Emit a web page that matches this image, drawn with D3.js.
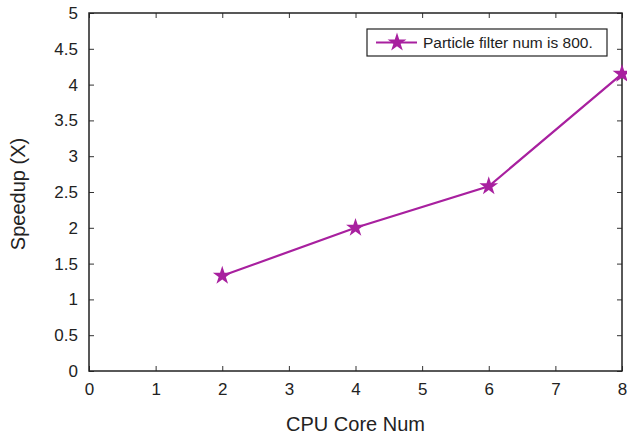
<!DOCTYPE html>
<html><head><meta charset="utf-8">
<script src="https://cdn.jsdelivr.net/npm/d3@7"></script>
<style>body{margin:0;background:#fff}svg{display:block}text{font-family:"Liberation Sans",Arial,sans-serif;fill:#222}</style>
</head><body><svg id="c" width="627" height="437"></svg>
<script>
const cores = [2, 4, 6, 8];
const speedup = [1.33, 2.0, 2.58, 4.15];
const xTicks = [0,1,2,3,4,5,6,7,8];
const yTicks = [0,0.5,1,1.5,2,2.5,3,3.5,4,4.5,5];
const seriesName = "Particle filter num is 800.";
const color = "#a8209f";

const svg = d3.select("#c");
const L=89, R=622, T=13, B=371;
const x = d3.scaleLinear().domain([0,8]).range([L,R]);
const y = d3.scaleLinear().domain([0,5]).range([B,T]);
const tl = 5;
const fmt = d => String(d);

svg.append("g").attr("transform",`translate(0,${B})`)
  .call(d3.axisBottom(x).tickValues(xTicks).tickSize(-tl).tickPadding(12).tickFormat(fmt))
  .call(g=>{g.select(".domain").remove();g.selectAll("text").attr("font-size",17).attr("font-family","Liberation Sans, Arial");});
svg.append("g").attr("transform",`translate(0,${T})`)
  .call(d3.axisTop(x).tickValues(xTicks).tickSize(-tl).tickFormat(""))
  .call(g=>g.select(".domain").remove());
svg.append("g").attr("transform",`translate(${L},0)`)
  .call(d3.axisLeft(y).tickValues(yTicks).tickSize(-tl).tickPadding(11).tickFormat(fmt))
  .call(g=>{g.select(".domain").remove();g.selectAll("text").attr("font-size",17).attr("font-family","Liberation Sans, Arial");});
svg.append("g").attr("transform",`translate(${R},0)`)
  .call(d3.axisRight(y).tickValues(yTicks).tickSize(-tl).tickFormat(""))
  .call(g=>g.select(".domain").remove());
svg.selectAll(".tick line").attr("stroke","#333").attr("stroke-width",1);
svg.selectAll(".tick text").attr("fill","#222");

svg.append("rect").attr("x",L).attr("y",T).attr("width",R-L).attr("height",B-T)
  .attr("fill","none").attr("stroke","#222").attr("stroke-width",1.5);

const pts = cores.map((c,i)=>[c,speedup[i]]);
svg.append("path").datum(pts).attr("fill","none").attr("stroke",color).attr("stroke-width",2.2)
  .attr("d", d3.line().x(d=>x(d[0])).y(d=>y(d[1])));
const star = d3.symbol().type(d3.symbolStar).size(110);
svg.selectAll(".pt").data(pts).join("path").attr("class","pt")
  .attr("transform",d=>`translate(${x(d[0])},${y(d[1])})`).attr("d",star()).attr("fill",color);

// legend
const lg = svg.append("g");
lg.append("rect").attr("x",367).attr("y",29).attr("width",240).attr("height",27)
  .attr("fill","#fff").attr("stroke","#222").attr("stroke-width",1.2);
lg.append("line").attr("x1",376).attr("x2",417).attr("y1",42.5).attr("y2",42.5).attr("stroke",color).attr("stroke-width",2.2);
lg.append("path").attr("transform","translate(397,42.5)").attr("d",star()).attr("fill",color);
lg.append("text").attr("x",423).attr("y",48).attr("font-size",15.5).text(seriesName);

svg.append("text").attr("x",(L+R)/2).attr("y",431).attr("text-anchor","middle").attr("font-size",20).text("CPU Core Num");
svg.append("text").attr("transform",`translate(25,${(T+B)/2+2}) rotate(-90)`).attr("text-anchor","middle").attr("font-size",20).text("Speedup (X)");
</script></body></html>
